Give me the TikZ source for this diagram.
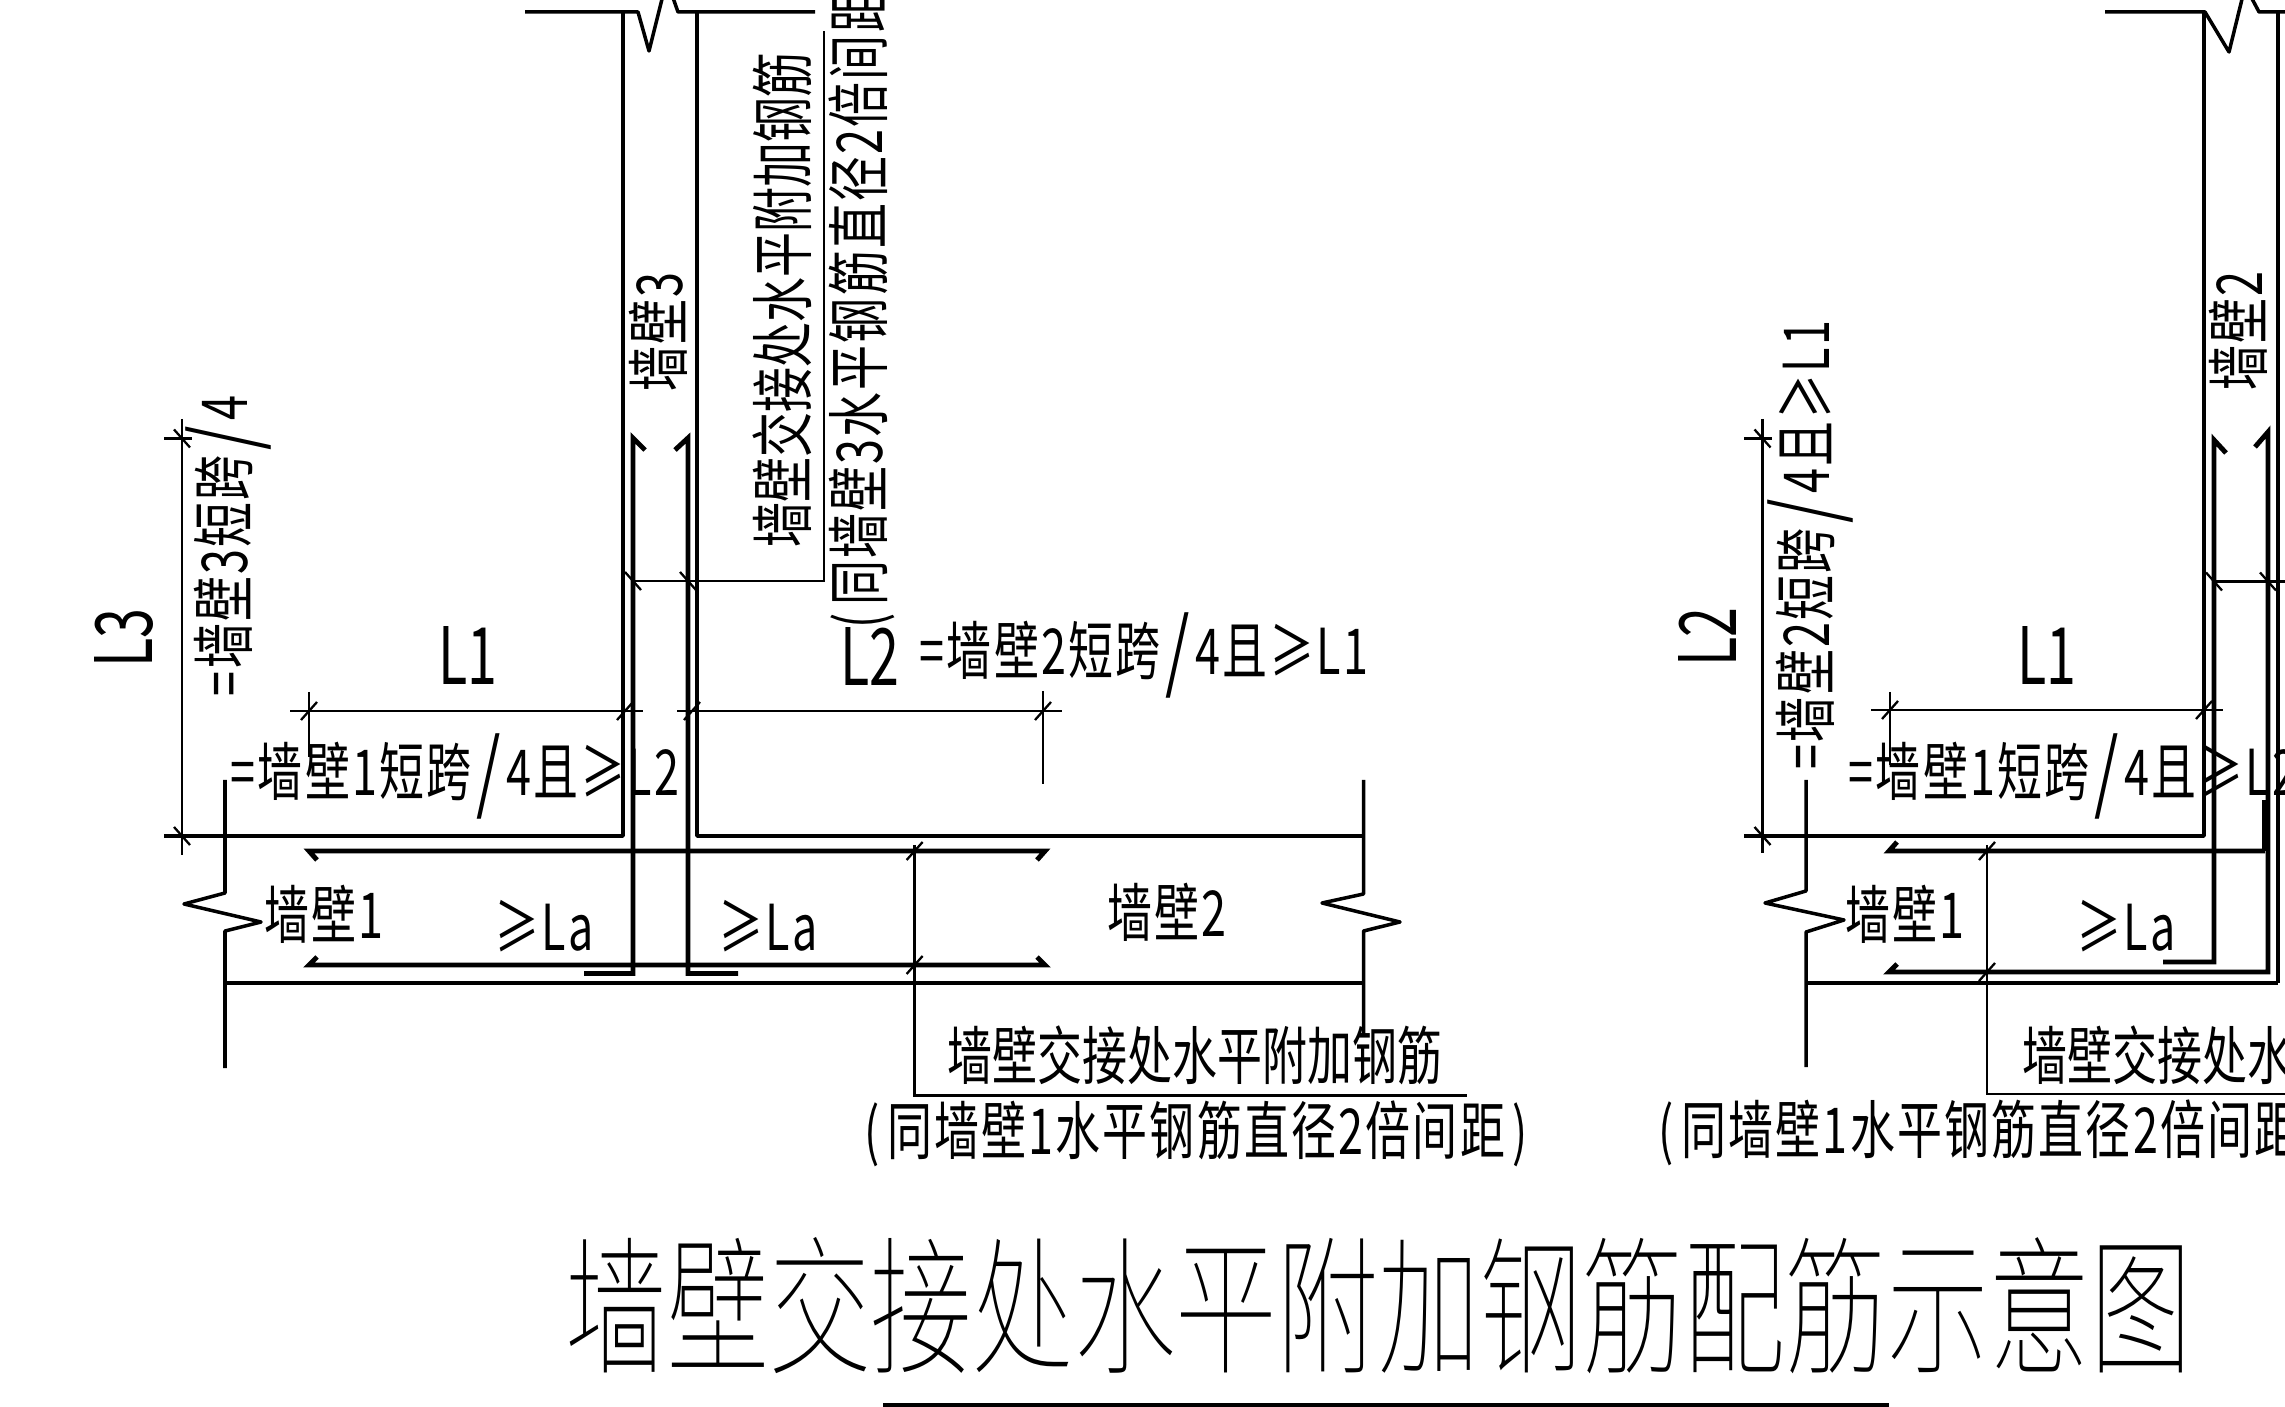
\documentclass[tikz,border=0pt]{standalone}
\usepackage{fontspec}
\newfontfamily\cjk[FakeStretch=0.71]{Noto Sans CJK SC}
\newfontfamily\cjkmix[FakeStretch=0.71, LetterSpace=3.5]{Noto Sans CJK SC}
\newfontfamily\cjkbig[FakeStretch=0.68]{Noto Sans CJK SC}
\newfontfamily\cjktitle[FakeStretch=0.68]{Noto Sans CJK SC Thin}
\newcommand{\sls}{\kern.08em\raisebox{-.12em}{\fontsize{25}{25}\selectfont /}\kern.08em}
\newcommand{\opn}{(\kern.12em}
\newcommand{\cls}{\kern.12em)}
\tikzset{
    wall/.style={line width=1pt, line join=round},
    rebar/.style={line width=1.4pt},
    dimline/.style={line width=0.65pt},
    lbl/.style={inner sep=0pt, font=\cjkmix\fontsize{18}{18}\selectfont},
    barlbl/.style={inner sep=0pt, font=\cjk\fontsize{18}{18}\selectfont},
    biglbl/.style={inner sep=0pt, font=\cjkbig\fontsize{22.5}{22.5}\selectfont},
    titlelbl/.style={inner sep=0pt, font=\cjktitle\fontsize{42.5}{42.5}\selectfont}
}

\begin{document}
\begin{tikzpicture}[x=0.01cm, y=-0.01cm]
    \useasboundingbox (0,0) rectangle (2285,1407);
    \clip (0,0) rectangle (2285,1407);

    % left corner
    \draw[wall] (525,12) -- (638,12) -- (649,51) -- (663,-5);
    \draw[wall] (672,-5) -- (678,12) -- (815,12);
    \draw[wall] (164,836) -- (623,836) -- (623,12);
    \draw[wall] (697,12) -- (697,836) -- (1363.5,836);
    \draw[wall] (225,983) -- (1363.5,983);
    \draw[wall] (225,780) -- (225,893) -- (184,904) -- (261,922) -- (225,931) -- (225,1068);
    \draw[wall] (1363.5,780) -- (1363.5,894) -- (1322,903) -- (1400,922) -- (1363.5,931) -- (1363.5,1036);

    \draw[rebar] (645,450) -- (633,438) -- (633,973.5) -- (584,973.5);
    \draw[rebar] (675,450) -- (688,438) -- (688,973.5) -- (738,973.5);
    \draw[rebar] (317,860) -- (309,851) -- (1045,851) -- (1037,860);
    \draw[rebar] (317,957) -- (309,965) -- (1045,965) -- (1037,957);

    \draw[dimline] (290,711) -- (643,711);
    \draw[dimline] (677,711) -- (1062,711);
    \draw[dimline] (309,692) -- (309,757);
    \draw[dimline] (1043,691) -- (1043,784);
    \draw[dimline] (182,419) -- (182,855);
    \draw[dimline] (164,438.5) -- (192,438.5);
    \draw[dimline] (633,581) -- (824,581) -- (824,31);
    \draw[dimline] (914.6,845) -- (914.6,1095.6) -- (1467,1095.6);
    \foreach \x/\y in {309/711, 625/711, 692/711, 1043/711, 914.6/851, 914.6/965}
        \draw[dimline] (\x,\y) +(-8,9) -- +(8,-9);
    \foreach \x/\y in {182/438.5, 182/836, 633/581, 688/581}
        \draw[dimline] (\x,\y) +(-8,-9) -- +(8,9);

    \node[biglbl, rotate=90] (ltspan) at (124,638) {L3};
    \node[lbl, rotate=90] (ltspantext) at (228,546) {=墙壁3短跨\sls 4};
    \node[biglbl] (loneleft) at (468,656) {L1};
    \node[lbl] (loneleftext) at (455,776) {=墙壁1短跨\sls 4且≥L2};
    \node[biglbl] (ltwoleft) at (870,657) {L2};
    \node[lbl] (ltwolefttext) at (1144,655) {=墙壁2短跨\sls 4且≥L1};
    \node[lbl] (wallonea) at (324,914) {墙壁1};
    \node[lbl] (walltwoa) at (1167,912) {墙壁2};
    \node[lbl, rotate=90] (wallthreea) at (658,332) {墙壁3};
    \node[lbl] (laone) at (544,926) {≥La};
    \node[lbl] (latwo) at (768,926) {≥La};
    \node[barlbl] (addbara) at (1195,1055) {墙壁交接处水平附加钢筋};
    \node[lbl] (spacinga) at (1196,1134) {\opn 同墙壁1水平钢筋直径2倍间距\cls};
    \node[barlbl, rotate=90] (addbarb) at (782,300) {墙壁交接处水平附加钢筋};
    \node[lbl, rotate=90] (spacingb) at (862,297) {\opn 同墙壁3水平钢筋直径2倍间距\cls};

    % right corner
    \draw[wall] (2105,12) -- (2205,12) -- (2229,52) -- (2243,-5);
    \draw[wall] (2250,-5) -- (2259,12) -- (2285,12);
    \draw[wall] (1744,836) -- (2204,836) -- (2204,12);
    \draw[wall] (2278,12) -- (2278,983);
    \draw[wall] (1806,983) -- (2278,983);
    \draw[wall] (1806,780) -- (1806,891) -- (1765,903) -- (1844,920) -- (1806,932) -- (1806,1067);

    \draw[rebar] (2226,453) -- (2214,440) -- (2214,962) -- (2163,962);
    \draw[rebar] (2255,447) -- (2268,432) -- (2268,972) -- (1889,972) -- (1897,964);
    \draw[rebar] (1897,842) -- (1889,851) -- (2265,851);
    \draw[line width=1.6pt] (2265,851) -- (2265,800);

    \draw[dimline] (1871,710) -- (2223,710);
    \draw[dimline] (1890,692) -- (1890,765);
    \draw[dimline] (1762.5,419) -- (1762.5,853);
    \draw[dimline] (1744,438.5) -- (1772,438.5);
    \draw[dimline] (2214,581.5) -- (2285,581.5);
    \draw[dimline] (1987,845) -- (1987,1094) -- (2285,1094);
    \foreach \x/\y in {1890/710, 2204/710, 1987/851, 1987/972}
        \draw[dimline] (\x,\y) +(-8,9) -- +(8,-9);
    \foreach \x/\y in {1762.5/438.5, 1762.5/836, 2214/581.5, 2268/581.5}
        \draw[dimline] (\x,\y) +(-8,-9) -- +(8,9);

    \node[biglbl, rotate=90] (ltwospan) at (1707,637) {L2};
    \node[lbl, rotate=90] (ltwospantext) at (1810,545) {=墙壁2短跨\sls 4且≥L1};
    \node[biglbl] (loneright) at (2047,656) {L1};
    \node[lbl, anchor=west] (lonerightext) at (1848,776) {=墙壁1短跨\sls 4且≥L2};
    \node[lbl] (walloneb) at (1905,914) {墙壁1};
    \node[lbl, rotate=90] (walltwob) at (2238,331) {墙壁2};
    \node[lbl] (lathree) at (2126,926) {≥La};
    \node[barlbl, anchor=west] (addbarc) at (2022,1055) {墙壁交接处水平附加钢筋};
    \node[lbl, anchor=west] (spacingc) at (1658,1133) {\opn 同墙壁1水平钢筋直径2倍间距\cls};

    % title
    \node[titlelbl] (drawingtitle) at (1379,1306) {墙壁交接处水平附加钢筋配筋示意图};
    \draw[line width=1pt] (883,1405) -- (1889,1405);
\end{tikzpicture}
\end{document}
